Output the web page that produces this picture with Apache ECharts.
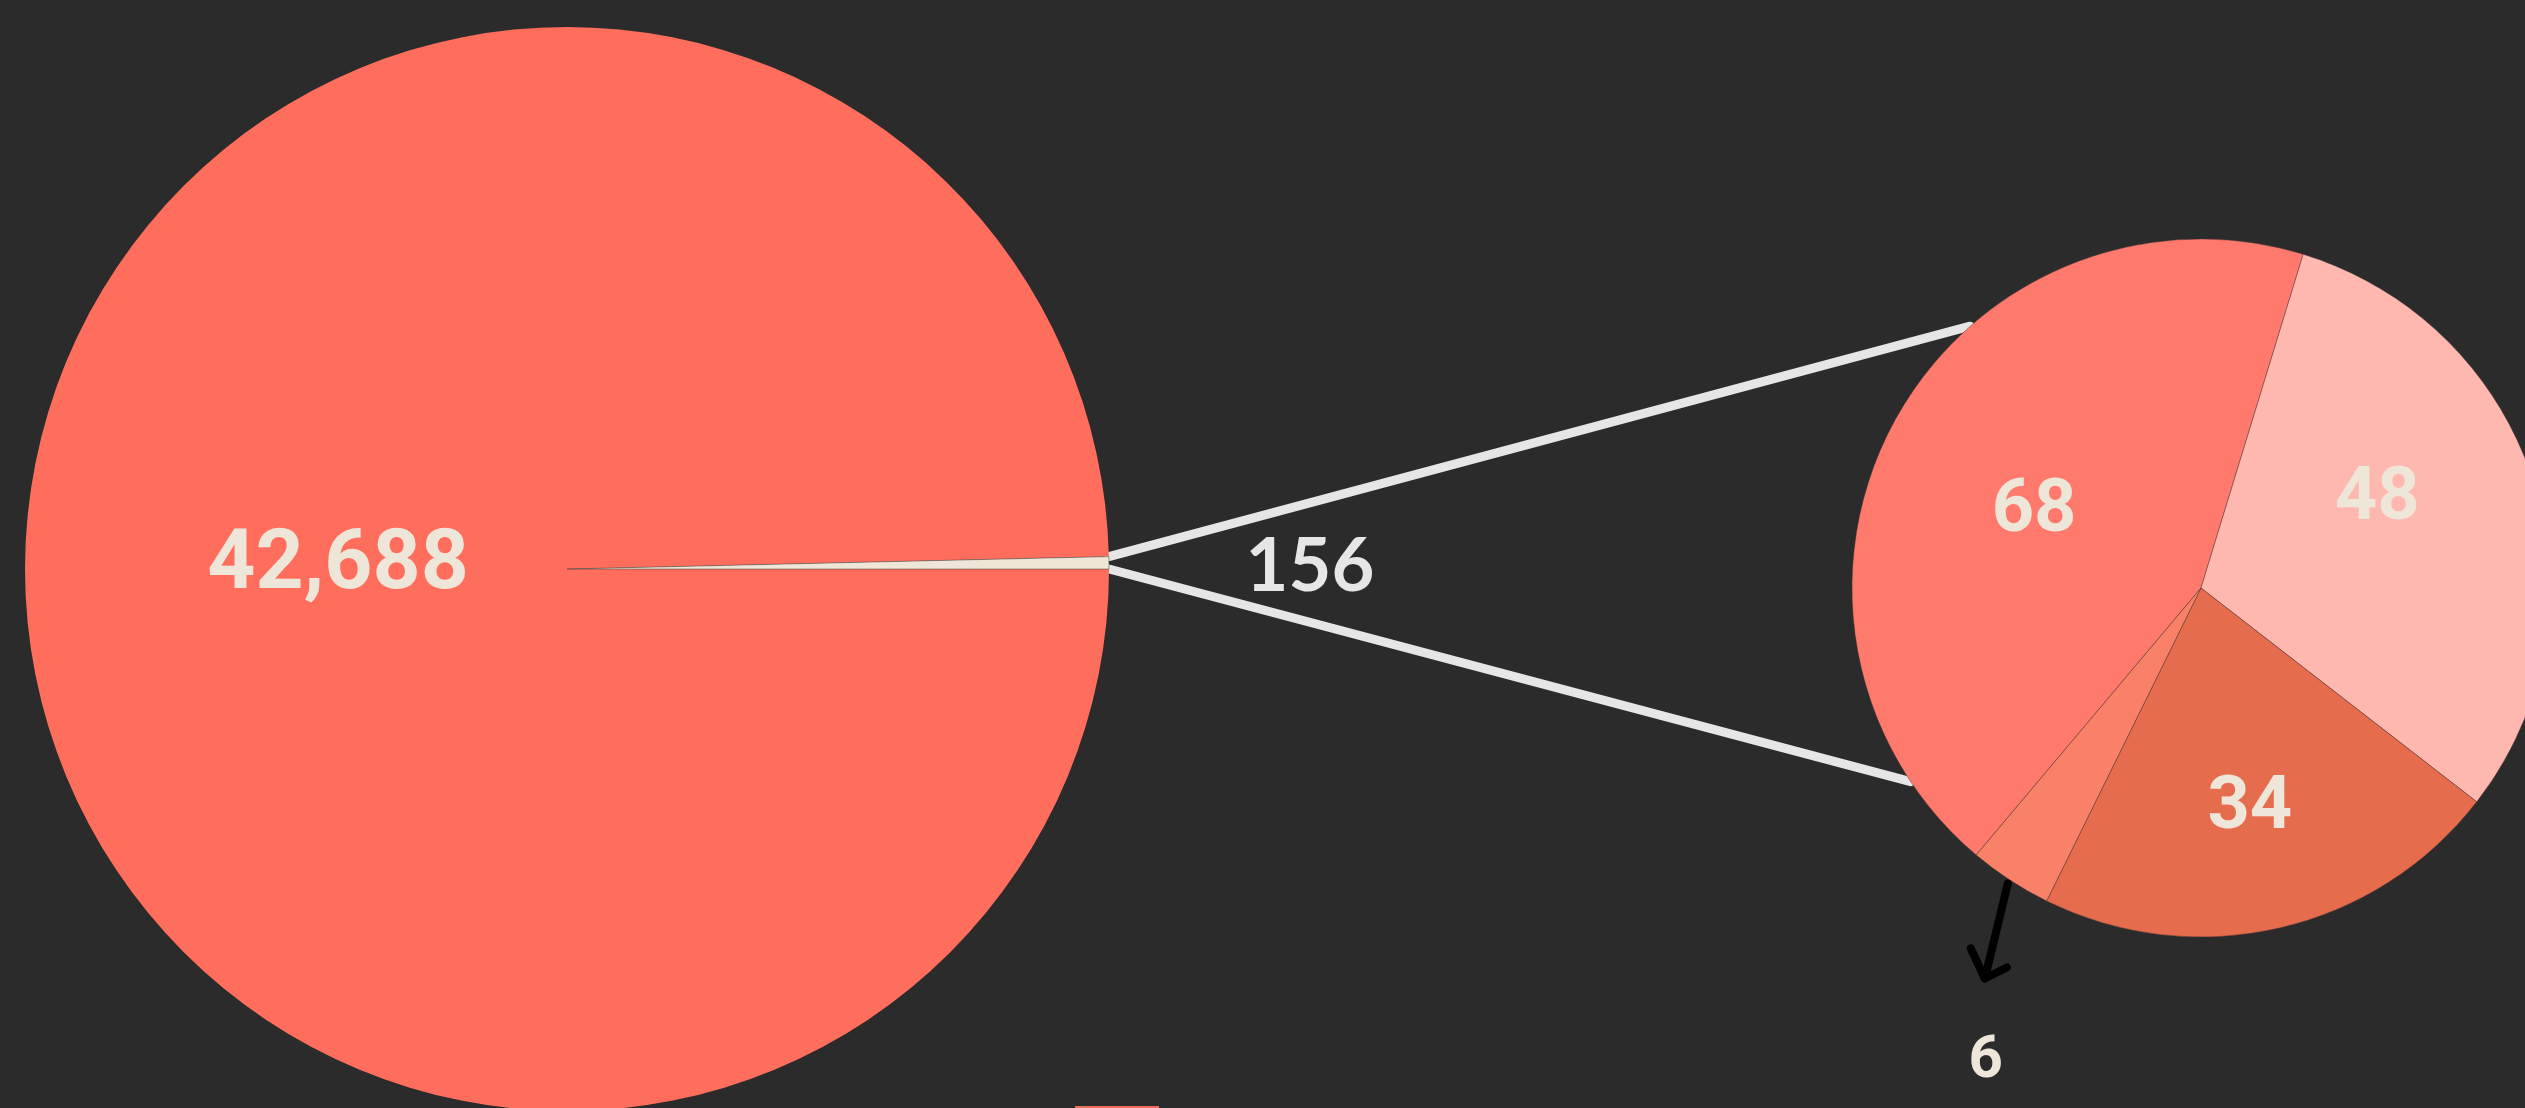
<!DOCTYPE html>
<html>
<head>
<meta charset="utf-8">
<script src="https://cdn.jsdelivr.net/npm/echarts@6/dist/echarts.min.js"></script>
<style>
  html, body { margin: 0; padding: 0; background: #2b2b2b; }
  #chart { width: 2525px; height: 1108px; }
</style>
</head>
<body>
<div id="chart"></div>
<script>
// ---- data ----
const mainCategories = ['Other', 'Detail'];
const mainValues = [42688, 156];
const subCategories = ['A', 'B', 'C', 'D'];
const subValues = [68, 48, 34, 6];

// ---- layout constants ----
const BIG = { cx: 567, cy: 569, r: 542, start: 0 };
const SMALL = { cx: 2201, cy: 588, r: 349, start: 229.9 };
const CREAM = '#efe6da';
const DIN = 'Roboto';

const mainColors = ['#ff6e5c', '#f0e6d8'];
const subColors = ['#ff7a6d', '#ffb8b0', '#e66c4e', '#f98167'];

const fmt = v => v.toLocaleString('en-US');

const chart = echarts.init(document.getElementById('chart'), null, { renderer: 'canvas' });

// geometry helpers derived from the data
const mainTotal = mainValues.reduce((a, b) => a + b, 0);
const subTotal = subValues.reduce((a, b) => a + b, 0);
const sliverAngle = mainValues[1] / mainTotal * 360; // degrees, ccw from east
const rad = d => d * Math.PI / 180;
function polar(c, r, degMath) { return [c.cx + r * Math.cos(rad(degMath)), c.cy - r * Math.sin(rad(degMath))]; }

// connector endpoints
const pTop0 = polar(BIG, BIG.r, BIG.start + sliverAngle);
const pBot0 = polar(BIG, BIG.r, BIG.start);
const pTop1 = polar(SMALL, SMALL.r, 131.4);
const pBot1 = polar(SMALL, SMALL.r, 213.7);

// arrow from mid of last small slice
const cumBefore = subValues.slice(0, 3).reduce((a, b) => a + b, 0);
const midLast = SMALL.start - (cumBefore + subValues[3] / 2) / subTotal * 360; // math angle
const aStart = polar(SMALL, SMALL.r + 4, midLast);
const aTip = [aStart[0] - 23, aStart[1] + 95];
const wing1 = [aTip[0] - 14, aTip[1] - 30];
const wing2 = [aTip[0] + 22, aTip[1] - 11];

const subOffsets = [[-11, 9], [7, -34], [9, 49]];

const thickLine = (pts, color, w, z) => ({
  type: 'polyline', z: z, silent: true,
  shape: { points: pts },
  style: { stroke: color, lineWidth: w, fill: null, lineCap: 'round', lineJoin: 'round' }
});

chart.setOption({
  backgroundColor: '#2b2b2b',
  animation: false,
  graphic: {
    elements: [
      thickLine([pTop0, pTop1], '#e6e6e6', 9, 1),
      thickLine([pBot0, pBot1], '#e6e6e6', 9, 1),
      thickLine([aStart, aTip], '#000000', 8, 100),
      thickLine([wing1, aTip, wing2], '#000000', 8, 100),
      { type: 'rect', z: 1, shape: { x: 1075, y: 1106, width: 84, height: 2 },
        style: { fill: '#e8705c' } }
    ]
  },
  series: [
    {
      type: 'pie',
      center: [BIG.cx, BIG.cy],
      radius: BIG.r,
      startAngle: BIG.start,
      clockwise: true,
      avoidLabelOverlap: false,
      itemStyle: { borderColor: 'rgba(60,60,60,0.6)', borderWidth: 0.6 },
      label: {
        show: true, position: 'inside', color: CREAM,
        fontFamily: DIN, fontWeight: 'bold', fontSize: 84,
        formatter: p => fmt(p.value)
      },
      labelLine: { show: false },
      emphasis: { disabled: true },
      labelLayout: function (p) {
        if (p.dataIndex === 0) return { dx: 45, dy: -5 };
        return { x: BIG.cx + BIG.r + 201, y: BIG.cy - 2, align: 'center', verticalAlign: 'middle' };
      },
      data: mainValues.map((v, i) => ({
        name: mainCategories[i], value: v,
        itemStyle: { color: mainColors[i], borderWidth: i === 0 ? 0 : 0.8 },
        label: i === 1 ? { position: 'outside', color: '#e6e6e6', fontFamily: 'Lato', fontWeight: 'bold', fontSize: 74 } : {}
      }))
    },
    {
      type: 'pie',
      center: [SMALL.cx, SMALL.cy],
      radius: SMALL.r,
      startAngle: SMALL.start,
      clockwise: true,
      avoidLabelOverlap: false,
      itemStyle: { borderColor: 'rgba(70,50,50,0.7)', borderWidth: 0.6 },
      label: {
        show: true, position: 'inside', color: CREAM,
        fontFamily: DIN, fontWeight: 'bold', fontSize: 74,
        formatter: p => fmt(p.value)
      },
      labelLine: { show: false },
      emphasis: { disabled: true },
      labelLayout: function (p) {
        const o = subOffsets[p.dataIndex];
        if (o) return { dx: o[0], dy: o[1] };
        return { x: aTip[0] + 1, y: aTip[1] + 84, align: 'center', verticalAlign: 'middle' };
      },
      data: subValues.map((v, i) => ({
        name: subCategories[i], value: v,
        itemStyle: { color: subColors[i] },
        label: i === 3 ? { position: 'outside', fontSize: 60 } : {}
      }))
    }
  ]
});
</script>
</body>
</html>
